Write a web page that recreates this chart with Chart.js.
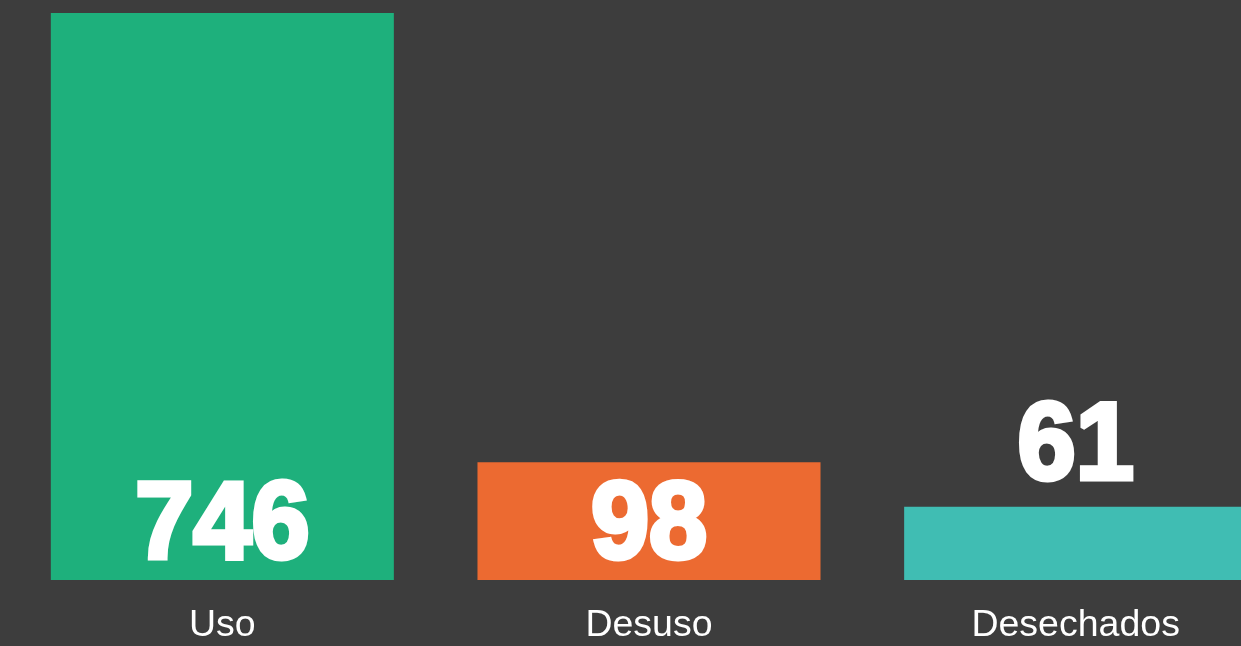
<!DOCTYPE html>
<html>
<head>
<meta charset="utf-8">
<script src="https://cdn.jsdelivr.net/npm/chart.js@4"></script>
<style>
  html, body { margin: 0; padding: 0; background: #3d3d3d; overflow: hidden; }
  #wrap { width: 1289px; height: 646px; }
</style>
</head>
<body>
<div id="wrap"><canvas id="c" width="1289" height="646"></canvas></div>
<script>
const categories = ['Uso', 'Desuso', 'Desechados'];
const values = [746, 98, 61];
const valueLabels = ['746', '98', '61'];
const barColors = ['#1eb07c', '#ec6a31', '#40bdb3'];
const axisMax = 472;

const valueLabelPlugin = {
  id: 'valueLabels',
  afterDatasetsDraw(chart) {
    const ctx = chart.ctx;
    const area = chart.chartArea;
    const meta = chart.getDatasetMeta(0);
    ctx.save();
    ctx.font = 'bold 110px "Liberation Sans", Arial, sans-serif';
    ctx.fillStyle = '#ffffff';
    ctx.strokeStyle = '#ffffff';
    ctx.lineWidth = 5;
    ctx.lineJoin = 'miter';
    ctx.miterLimit = 2;
    ctx.textAlign = 'center';
    ctx.textBaseline = 'alphabetic';
    meta.data.forEach((el, i) => {
      const top = Math.max(el.y, area.top);
      const h = el.base - top;
      const baseline = h > 100 ? el.base - 22 : top - 28;
      ctx.save();
      ctx.translate(el.x, baseline);
      ctx.scale(0.95, 1);
      ctx.fillText(valueLabels[i], 0, 0);
      ctx.strokeText(valueLabels[i], 0, 0);
      ctx.restore();
    });
    ctx.restore();
  }
};

new Chart(document.getElementById('c'), {
  type: 'bar',
  data: {
    labels: categories,
    datasets: [{
      data: values,
      backgroundColor: barColors,
      borderWidth: 0,
      barPercentage: 0.804,
      categoryPercentage: 1
    }]
  },
  options: {
    responsive: false,
    animation: false,
    devicePixelRatio: 1,
    layout: { padding: { top: 13, left: 9, right: 0, bottom: 0 } },
    plugins: { legend: { display: false }, tooltip: { enabled: false } },
    scales: {
      x: {
        grid: { display: false, drawTicks: false },
        border: { display: false },
        afterFit(scale) { scale.height = 66; },
        ticks: {
          color: '#ffffff',
          padding: 23,
          font: { family: '"Liberation Sans", Arial, sans-serif', size: 37.5 }
        }
      },
      y: {
        display: false,
        min: 0,
        max: axisMax
      }
    }
  },
  plugins: [valueLabelPlugin]
});
</script>
</body>
</html>
